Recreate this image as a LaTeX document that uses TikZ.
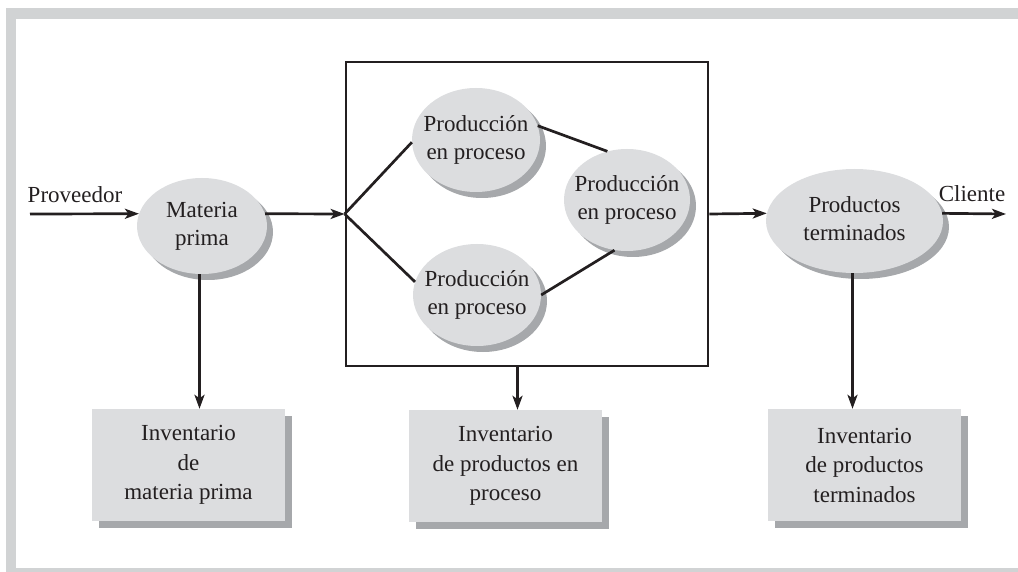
\documentclass[tikz,border=0pt]{standalone}
\usepackage{fontspec}
\setmainfont{Liberation Serif}
\usetikzlibrary{arrows.meta,shadows,shapes.geometric}
\definecolor{framegray}{RGB}{209,211,212}
\definecolor{fillgray}{RGB}{220,221,223}
\definecolor{shadowgray}{RGB}{166,168,171}
\definecolor{ink}{RGB}{35,31,32}
\newcommand{\ctext}[1]{\makebox[0pt]{\begin{tabular}{@{}c@{}}#1\end{tabular}}}
\begin{document}
\begin{tikzpicture}[x=1pt,y=-1pt,
  font=\fontsize{23}{28}\selectfont,
  proc/.style={ellipse, fill=fillgray, draw=none, inner sep=0pt, text=ink,
    drop shadow={shadow xshift=6pt, shadow yshift=-6pt, fill=shadowgray, opacity=1}},
  invbox/.style={rectangle, fill=fillgray, draw=none, inner sep=0pt, text=ink,
    minimum width=193pt, minimum height=112pt, align=center,
    font=\fontsize{23}{29.5}\selectfont,
    drop shadow={shadow xshift=7pt, shadow yshift=-7pt, fill=shadowgray, opacity=1}},
  arr/.style={draw=ink, line width=2.7pt, -{Stealth[length=14pt,width=10pt,inset=3.5pt]}},
  link/.style={draw=ink, line width=2.7pt},
  lbl/.style={text=ink, inner sep=0pt, anchor=base}
]
\useasboundingbox (0,0) rectangle (1018,572);
% frame
\fill[framegray] (6,8) rectangle (1018,19);
\fill[framegray] (6,8) rectangle (16,572);
\fill[framegray] (6,568) rectangle (1018,572);

% big process box
\node[draw=ink, line width=2.7pt, minimum width=362pt, minimum height=304pt, inner sep=0pt] (big) at (527,214) {};

% ellipses
\node[proc, minimum width=130pt, minimum height=96pt] (MP) at (202,226) {\ctext{Materia\\prima}};
\node[proc, minimum width=128pt, minimum height=104pt] (P1) at (476,140) {\ctext{Producción\\en proceso}};
\node[proc, minimum width=128pt, minimum height=102pt] (P2) at (477,295) {\ctext{Producción\\en proceso}};
\node[proc, minimum width=126pt, minimum height=102pt] (P3) at (627,200) {\ctext{Producción\\en proceso}};
\node[proc, minimum width=177pt, minimum height=104pt] (PT) at (854.5,221) {\ctext{Productos\\terminados}};

% inventory boxes
\node[invbox] (I1) at (188.5,465) {Inventario\\de\\materia prima};
\node[invbox] (I2) at (505.5,466) {Inventario\\de productos en\\proceso};
\node[invbox] (I3) at (864.5,465) {Inventario\\de productos\\terminados};

% labels
\node[lbl] (prov) at (75,203) {Proveedor};
\node[lbl] (cli) at (972,202) {Cliente};

% connectors
\coordinate (provin) at (30,214);
\coordinate (cliout) at (1006,214);
\draw[arr] (provin) -- (MP.169);
\draw[arr] (MP.11) -- (big.west);
\draw[link] (big.west) -- (P1.182);
\draw[link] (big.west) -- (P2.168);
\draw[link] (P1.13) -- (P3.112);
\draw[link] (P2.0) -- (P3.256);
\draw[arr] (big.east) -- (PT.175);
\draw[arr] (PT.5) -- (cliout);

\coordinate (d1) at (199.5,0);
\coordinate (d2) at (517.5,0);
\coordinate (d3) at (852.5,0);
\draw[arr] (MP.south -| d1) -- (I1.north -| d1);
\draw[arr] (big.south -| d2) -- (I2.north -| d2);
\draw[arr] (PT.south -| d3) -- (I3.north -| d3);
\end{tikzpicture}
\end{document}
